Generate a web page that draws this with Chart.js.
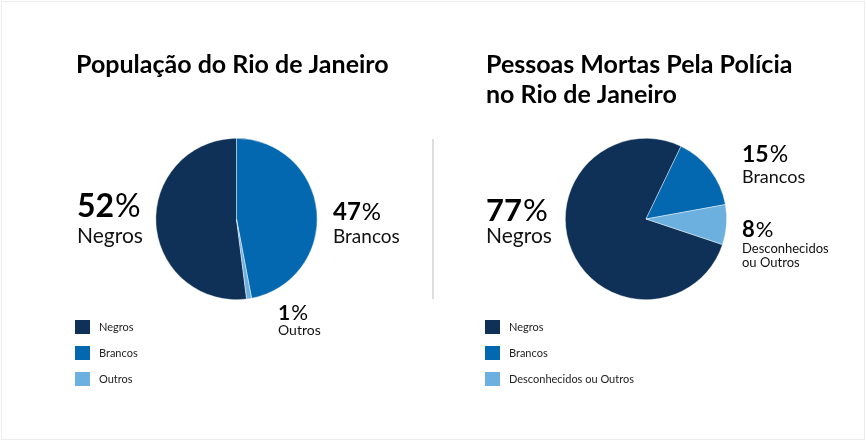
<!DOCTYPE html>
<html lang="pt-BR">
<head>
<meta charset="utf-8">
<title>Rio de Janeiro</title>
<script src="https://cdn.jsdelivr.net/npm/chart.js@4.4.1/dist/chart.umd.min.js"></script>
<style>
  html, body { margin: 0; padding: 0; background: #fff; }
  #wrap { position: relative; width: 866px; height: 441px; overflow: hidden; }
  #frame { position: absolute; left: 1px; top: 1px; width: 862px; height: 437px; border: 1px solid #ececec; }
  .pane { position: absolute; top: 0; }
  #divider { position: absolute; left: 432px; top: 139px; width: 2px; height: 160px; background: #dedede; }
</style>
</head>
<body>
<div id="wrap">
  <div id="frame"></div>
  <canvas id="graficoPopulacao" class="pane" style="left:0" width="433" height="441"></canvas>
  <div id="divider"></div>
  <canvas id="graficoMortes" class="pane" style="left:433px" width="433" height="441"></canvas>
</div>
<script>
// dados
const categoriasPopulacao = ['Negros', 'Brancos', 'Outros'];
const valoresPopulacao = [52, 47, 1];
const categoriasMortes = ['Negros', 'Brancos', 'Desconhecidos ou Outros'];
const rotulosMortes = [['Negros'], ['Brancos'], ['Desconhecidos', 'ou Outros']];
const valoresMortes = [77, 15, 8];
const tituloPopulacao = ['População do Rio de Janeiro'];
const tituloMortes = ['Pessoas Mortas Pela Polícia', 'no Rio de Janeiro'];

const cores = ['#0f3158', '#0468b1', '#6cb0e0'];
const fonte = 'Lato, "Open Sans", sans-serif';

// desenha título, rótulos das fatias e legenda
const textosPlugin = {
  id: 'textos',
  afterDraw(chart, args, opts) {
    const ctx = chart.ctx;
    ctx.save();
    ctx.fillStyle = '#000';
    ctx.textBaseline = 'alphabetic';
    ctx.textAlign = 'left';

    // título
    ctx.font = 'bold 25px ' + fonte;
    opts.titulo.forEach((linha, i) => ctx.fillText(linha, opts.tituloX, 73 + i * 30));

    // rótulos
    const valores = chart.data.datasets[0].data;
    opts.rotulos.forEach((r, i) => {
      const num = String(valores[i]);
      ctx.font = 'bold ' + r.tam + 'px ' + fonte;
      ctx.fillStyle = '#000';
      ctx.fillText(num, r.x, r.y);
      const w = ctx.measureText(num).width;
      ctx.font = r.tam + 'px ' + fonte;
      ctx.fillText('%', r.x + w + 1, r.y);
      ctx.fillStyle = '#111';
      ctx.font = r.tamNome + 'px ' + fonte;
      opts.nomes[i].forEach((linha, j) => ctx.fillText(linha, r.x, r.yNome + j * r.passo));
    });

    // legenda
    ctx.textBaseline = 'middle';
    ctx.font = '11px ' + fonte;
    chart.data.labels.forEach((lab, i) => {
      const y = 320 + i * 26;
      ctx.fillStyle = cores[i];
      ctx.fillRect(opts.legendaX, y, 15, 14);
      ctx.fillStyle = '#222';
      ctx.fillText(lab, opts.legendaX + 24, y + 7);
    });
    ctx.restore();
  }
};

function criarPizza(id, labels, valores, rotacao, padding, textos) {
  return new Chart(document.getElementById(id), {
    type: 'pie',
    data: {
      labels: labels,
      datasets: [{
        data: valores,
        backgroundColor: cores,
        borderColor: 'rgba(255,255,255,0.7)',
        borderWidth: 0.6
      }]
    },
    options: {
      responsive: false,
      animation: false,
      rotation: rotacao,
      layout: { padding: padding },
      plugins: {
        legend: { display: false },
        tooltip: { enabled: false },
        textos: textos
      }
    },
    plugins: [textosPlugin]
  });
}

criarPizza('graficoPopulacao', categoriasPopulacao, valoresPopulacao, 172.8,
  { left: 155, right: 115, top: 138, bottom: 141 },
  {
    titulo: tituloPopulacao,
    tituloX: 76,
    legendaX: 75,
    nomes: categoriasPopulacao.map(c => [c]),
    rotulos: [
      { x: 77, y: 217, tam: 32, yNome: 243, tamNome: 21, passo: 0 },
      { x: 333, y: 220, tam: 24, yNome: 243, tamNome: 19, passo: 0 },
      { x: 278, y: 320, tam: 21, yNome: 335, tamNome: 14, passo: 0 }
    ]
  });

criarPizza('graficoMortes', categoriasMortes, valoresMortes, 108.5,
  { left: 132, right: 139, top: 138, bottom: 141 },
  {
    titulo: tituloMortes,
    tituloX: 53,
    legendaX: 52,
    nomes: rotulosMortes,
    rotulos: [
      { x: 53, y: 221, tam: 31, yNome: 243, tamNome: 21, passo: 0 },
      { x: 309, y: 162, tam: 23, yNome: 183, tamNome: 18, passo: 0 },
      { x: 309, y: 237, tam: 22, yNome: 253, tamNome: 13, passo: 14 }
    ]
  });
</script>
</body>
</html>
